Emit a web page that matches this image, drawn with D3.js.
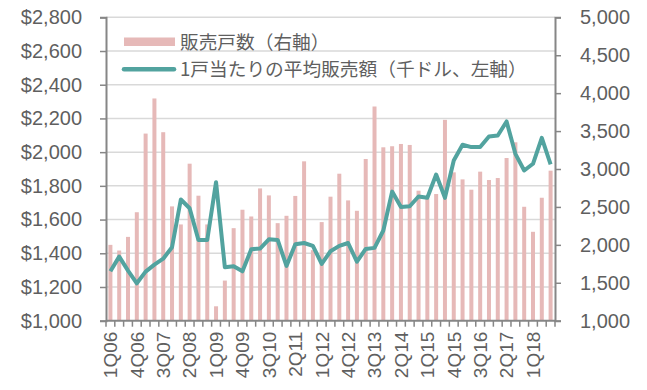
<!DOCTYPE html>
<html>
<head>
<meta charset="utf-8">
<script src="https://cdn.jsdelivr.net/npm/d3@7"></script>
<style>
	body { margin: 0; background: #fff; }
	text { font-family: "Liberation Sans", Arial, sans-serif; fill: #5f5f5f; }
	.legend text { font-family: "Noto Sans CJK JP", sans-serif; }
</style>
</head>
<body>
<div id="graph"></div>
<script>
// quarters on the x axis
var quarters = ["1Q06","2Q06","3Q06","4Q06","1Q07","2Q07","3Q07","4Q07",
	"1Q08","2Q08","3Q08","4Q08","1Q09","2Q09","3Q09","4Q09",
	"1Q10","2Q10","3Q10","4Q10","1Q11","2Q11","3Q11","4Q11",
	"1Q12","2Q12","3Q12","4Q12","1Q13","2Q13","3Q13","4Q13",
	"1Q14","2Q14","3Q14","4Q14","1Q15","2Q15","3Q15","4Q15",
	"1Q16","2Q16","3Q16","4Q16","1Q17","2Q17","3Q17","4Q17",
	"1Q18","2Q18","3Q18"];
// only every third quarter gets a label
var quarterLabels = ["1Q06","4Q06","3Q07","2Q08","1Q09","4Q09","3Q10","2Q11","1Q12",
	"4Q12","3Q13","2Q14","1Q15","4Q15","3Q16","2Q17","1Q18"];

// 販売戸数 (right axis)
var unitsSold = [2000,1925,2105,2430,3467,3930,3485,2507,2269,3070,2648,2269,
	1190,1529,2220,2463,2374,2744,2652,2286,2383,2645,3101,1930,2300,2635,
	2938,2586,2449,3132,3824,3286,3300,3330,3317,2714,2608,2670,3648,2956,
	2863,2727,2965,2855,2881,3145,3352,2502,2172,2621,2978];
// 1戸当たりの平均販売額 (left axis, thousand $)
var avgPrice = [1293,1380,1297,1222,1291,1333,1368,1436,1719,1667,1479,1479,
	1822,1317,1323,1293,1424,1428,1483,1479,1325,1453,1461,1444,1337,1412,
	1444,1461,1350,1426,1432,1535,1766,1675,1679,1737,1729,1867,1729,1950,
	2044,2030,2030,2093,2099,2182,1990,1891,1931,2085,1927];

var leftTicks = [1000,1200,1400,1600,1800,2000,2200,2400,2600,2800];
var rightTicks = [1000,1500,2000,2500,3000,3500,4000,4500,5000];
var legendNames = ["販売戸数（右軸）", "1戸当たりの平均販売額（千ドル、左軸）"];

var w = 647, h = 390;
// plot box (note: "top" is taken by window, so keep these in an object)
var box = {left: 106, right: 555, top: 17.3, bottom: 320.7};
var barColor = "#e6b9b8", lineColor = "#52a39f", axisColor = "#868686", gridColor = "#d9d9d9";

var svg = d3.select("#graph").append("svg").attr("width", w).attr("height", h);

var x = d3.scaleBand().domain(quarters).range([box.left, box.right]).padding(0);
var yL = d3.scaleLinear().domain([1000, 2800]).range([box.bottom, box.top]);
var yR = d3.scaleLinear().domain([1000, 5000]).range([box.bottom, box.top]);

// gridlines
svg.append("g").selectAll("line").data(leftTicks.slice(1)).enter().append("line")
	.attr("x1", box.left).attr("x2", box.right)
	.attr("y1", function(d){ return yL(d); }).attr("y2", function(d){ return yL(d); })
	.attr("stroke", gridColor).attr("stroke-width", 1.5);

// bars
var barW = 4;
svg.append("g").selectAll("rect").data(unitsSold).enter().append("rect")
	.attr("x", function(d, i){ return x(quarters[i]) + x.bandwidth()/2 - barW/2; })
	.attr("y", function(d){ return yR(d); })
	.attr("width", barW)
	.attr("height", function(d){ return box.bottom - yR(d); })
	.attr("fill", barColor);

// line
var line = d3.line()
	.x(function(d, i){ return x(quarters[i]) + x.bandwidth()/2; })
	.y(function(d){ return yL(d); });
svg.append("path").datum(avgPrice).attr("d", line)
	.attr("fill", "none").attr("stroke", lineColor).attr("stroke-width", 4)
	.attr("stroke-linejoin", "round");

// left axis
var axL = svg.append("g").attr("transform", "translate(" + box.left + ",0)")
	.call(d3.axisLeft(yL).tickValues(leftTicks).tickSize(6).tickPadding(18)
		.tickFormat(function(d){ return "$" + d3.format(",")(d); }));
// right axis
var axR = svg.append("g").attr("transform", "translate(" + box.right + ",0)")
	.call(d3.axisRight(yR).tickValues(rightTicks).tickSize(6).tickPadding(19)
		.tickFormat(d3.format(",")));
[axL, axR].forEach(function(ax){
	ax.select(".domain").attr("stroke", axisColor).attr("stroke-width", 2);
	ax.selectAll(".tick line").attr("stroke", axisColor).attr("stroke-width", 1.5);
	ax.selectAll(".tick text").attr("font-size", 20).attr("fill", "#5f5f5f")
		.style("font-family", "'Liberation Sans', Arial, sans-serif");
});

// bottom axis: line, ticks at category borders, rotated labels
svg.append("line").attr("x1", box.left).attr("x2", box.right)
	.attr("y1", box.bottom).attr("y2", box.bottom)
	.attr("stroke", axisColor).attr("stroke-width", 2);
var borders = quarters.map(function(q){ return x(q); }).concat([box.right]);
svg.append("g").selectAll("line").data(borders).enter().append("line")
	.attr("x1", function(d){ return d; }).attr("x2", function(d){ return d; })
	.attr("y1", box.bottom).attr("y2", box.bottom + 6)
	.attr("stroke", axisColor).attr("stroke-width", 1.5);
svg.append("g").selectAll("text").data(quarterLabels).enter().append("text")
	.attr("transform", function(d){
		return "translate(" + (x(d) + x.bandwidth()/2) + "," + (box.bottom + 11) + ") rotate(-90)";
	})
	.attr("text-anchor", "end").attr("dy", "0.36em")
	.attr("font-size", 19).text(function(d){ return d; });

// legend
var lg = svg.append("g").attr("class", "legend");
lg.append("rect").attr("x", 124).attr("y", 37.5).attr("width", 51).attr("height", 8.5)
	.attr("fill", barColor);
lg.append("line").attr("x1", 124).attr("x2", 174).attr("y1", 69.3).attr("y2", 69.3)
	.attr("stroke", lineColor).attr("stroke-width", 4.5).attr("stroke-linecap", "round");
lg.selectAll("text").data(legendNames).enter().append("text")
	.attr("x", 180).attr("y", function(d, i){ return 42 + i*27.5; })
	.attr("dy", "0.35em").attr("font-size", 18.7)
	.text(function(d){ return d; });
</script>
</body>
</html>
